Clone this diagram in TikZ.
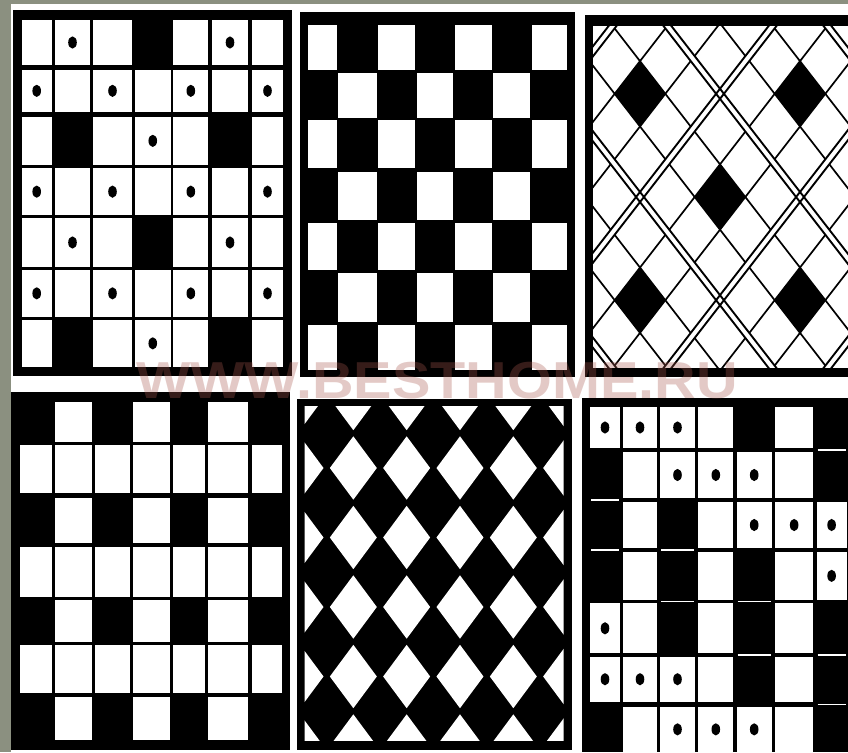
\documentclass[tikz,border=0pt]{standalone}
\usepackage{fontspec}
\newfontfamily\wmfont{Liberation Sans}
\definecolor{bggray}{RGB}{139,144,128}
\definecolor{wmred}{RGB}{170,90,80}
\newcommand{\gridcells}[5]{%
  \foreach \r in {0,...,6}{%
    \foreach \c in {0,...,6}{%
      \pgfmathsetmacro\gxa{#1[\c]}%
      \pgfmathsetmacro\gxb{#2[\c]}%
      \pgfmathsetmacro\gya{#3[\r]}%
      \pgfmathsetmacro\gyb{#4[\r]}%
      \pgfmathtruncatemacro\gt{#5[\r*7+\c]}%
      \ifnum\gt=1\relax\else
        \fill[white] (\gxa,\gya) rectangle (\gxb,\gyb);
      \fi
      \ifnum\gt=2\relax
        \fill[black] ({(\gxa+\gxb)/2},{(\gya+\gyb)/2}) ellipse [x radius=4.3, y radius=6.1];
      \fi
    }%
  }%
}
\begin{document}
\begin{tikzpicture}[x=1pt,y=-1pt,
  thinl/.style={black,line width=1.7pt},
  dbll/.style={black,line width=1.9pt},
  dashw/.style={white,line width=1.4pt}]
\useasboundingbox (0,0) rectangle (848,752);
\fill[bggray] (0,0) rectangle (848,752);
\fill[white] (11,4) rectangle (848,752);

% ---------- panel 1 ----------
\def\pAxa{{21.7,55,93.3,135,173.3,211.7,251.7}}
\def\pAxb{{51.7,90,131.7,170.5,208.3,248.3,283.3}}
\def\pAya{{20,70,116.7,168.3,218.3,270,320}}
\def\pAyb{{65,111.7,165,215,266.7,316.7,366.7}}
\def\pAt{{0,2,0,1,0,2,0, 2,0,2,0,2,0,2, 0,1,0,2,0,1,0, 2,0,2,0,2,0,2, 0,2,0,1,0,2,0, 2,0,2,0,2,0,2, 0,1,0,2,0,1,0}}
\fill[black] (12.5,10) rectangle (291.5,375.5);
\gridcells{\pAxa}{\pAxb}{\pAya}{\pAyb}{\pAt}

% ---------- panel 2 ----------
\def\pBxa{{308.3,338.3,378.3,416.7,455,493.3,531.7}}
\def\pBxb{{336.7,376.7,415,453.3,491.7,530,566.7}}
\def\pBya{{25,73,120,172,223,273,325}}
\def\pByb{{70,118,168,220,270,322,370}}
\def\pBt{{0,1,0,1,0,1,0, 1,0,1,0,1,0,1, 0,1,0,1,0,1,0, 1,0,1,0,1,0,1, 0,1,0,1,0,1,0, 1,0,1,0,1,0,1, 0,1,0,1,0,1,0}}
\fill[black] (300,12) rectangle (575,377);
\gridcells{\pBxa}{\pBxb}{\pBya}{\pByb}{\pBt}

% ---------- panel 3 ----------
\fill[black] (585,15) rectangle (848,377);
\fill[white] (593,26.5) rectangle (848,367.5);
\begin{scope}
  \clip (593,26.5) rectangle (848,367.5);
  \begin{scope}[shift={(720,197)}, yscale=1.29, rotate=45]
    \foreach \i in {-3,...,3}{
      \pgfmathsetmacro\base{\i*113.14}
      \draw[thinl] (\base-17.9,-500) -- (\base-17.9,500);
      \draw[thinl] (\base+17.9,-500) -- (\base+17.9,500);
      \draw[thinl] (-500,\base-17.9) -- (500,\base-17.9);
      \draw[thinl] (-500,\base+17.9) -- (500,\base+17.9);
    }
    \foreach \i in {-3,...,3}{
      \pgfmathsetmacro\base{\i*113.14}
      \fill[white] (\base+53.8,-500) rectangle (\base+59.34,500);
      \fill[white] (-500,\base+53.8) rectangle (500,\base+59.34);
    }
    \foreach \i in {-3,...,3}{
      \pgfmathsetmacro\base{\i*113.14}
      \draw[dbll] (\base-53.8,-500) -- (\base-53.8,500);
      \draw[dbll] (\base+53.8,-500) -- (\base+53.8,500);
      \draw[dbll] (-500,\base-53.8) -- (500,\base-53.8);
      \draw[dbll] (-500,\base+53.8) -- (500,\base+53.8);
    }
    \foreach \i in {-2,...,2}{
      \foreach \j in {-2,...,2}{
        \fill[black] (\i*113.14-17.9,\j*113.14-17.9) rectangle (\i*113.14+17.9,\j*113.14+17.9);
      }
    }
  \end{scope}
\end{scope}

% ---------- panel 4 ----------
\def\pDxa{{20,55,95,133.3,173.3,208.3,251.7}}
\def\pDxb{{51.7,91.7,130,170,205,248.3,281.7}}
\def\pDya{{401.7,445,498.3,546.7,600,645,696.7}}
\def\pDyb{{441.7,493.3,543.3,596.7,641.7,693.3,740}}
\def\pDt{{1,0,1,0,1,0,1, 0,0,0,0,0,0,0, 1,0,1,0,1,0,1, 0,0,0,0,0,0,0, 1,0,1,0,1,0,1, 0,0,0,0,0,0,0, 1,0,1,0,1,0,1}}
\fill[black] (11,392) rectangle (289.5,750);
\gridcells{\pDxa}{\pDxb}{\pDya}{\pDyb}{\pDt}

% ---------- panel 5 ----------
\fill[black] (296.5,399) rectangle (572,750);
\begin{scope}
  \clip (304.5,406) rectangle (563.5,740.5);
  \foreach \k in {0,...,5}{
    \foreach \j in {0,...,5}{
      \pgfmathsetmacro\cx{300+53.33*\k}
      \pgfmathsetmacro\cy{398.5+69.5*\j}
      \fill[white] (\cx-23.5,\cy) -- (\cx,\cy-31.7) -- (\cx+23.5,\cy) -- (\cx,\cy+31.7) -- cycle;
    }
  }
\end{scope}

% ---------- panel 6 ----------
\def\pFxa{{590,623.3,660,698.3,736.7,775,816.7}}
\def\pFxb{{620,656.7,695,733.3,771.7,813.3,846.5}}
\def\pFya{{406.7,451.7,501.7,551.7,603.3,656.7,706.7}}
\def\pFyb{{448.3,498.3,548.3,600,653.3,701.7,752}}
\def\pFt{{2,2,2,0,1,0,1, 1,0,2,2,2,0,1, 1,0,1,0,2,2,2, 1,0,1,0,1,0,2, 2,0,1,0,1,0,1, 2,2,2,0,1,0,1, 1,0,2,2,2,0,1}}
\fill[black] (582,398) rectangle (848,752);
\gridcells{\pFxa}{\pFxb}{\pFya}{\pFyb}{\pFt}
\foreach \c/\yy in {6/450, 0/500, 0/550, 2/550, 2/601.7, 4/601.7, 4/655, 6/655, 6/704.2}{
  \pgfmathsetmacro\gxa{\pFxa[\c]}
  \pgfmathsetmacro\gxb{\pFxb[\c]}
  \draw[dashw] (\gxa+1,\yy) -- (\gxb-1,\yy);
}

% ---------- watermark ----------
\node[text=wmred, text opacity=0.32, inner sep=0pt] (wm) at (437,381)
  {\scalebox{1.44}[1.3]{\wmfont\bfseries\fontsize{40}{40}\selectfont WWW.BESTHOME.RU}};
\end{tikzpicture}
\end{document}
